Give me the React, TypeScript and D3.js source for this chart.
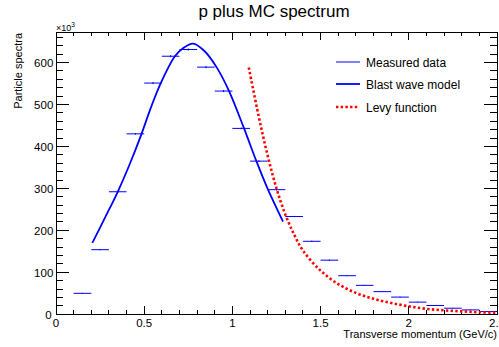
import React from "react";
import * as d3 from "d3";

// Histogram: bin lower edges (GeV/c), width 0.1, values in units of 10^3
const binLow = [0.1, 0.2, 0.3, 0.4, 0.5, 0.6, 0.7, 0.8, 0.9, 1.0, 1.1, 1.2, 1.3, 1.4, 1.5, 1.6, 1.7, 1.8, 1.9, 2.0, 2.1, 2.2, 2.3, 2.4];
const binValue = [50, 154, 292, 430, 551, 615, 631, 589, 532, 443, 365, 297, 233, 174, 129, 92, 69, 54, 41, 29, 21, 14.5, 10.5, 6.5];
const binError = [1, 1.5, 2, 2, 2.5, 2.5, 2.5, 2.5, 2.5, 2, 2, 2, 1.5, 1.5, 1.5, 1, 1, 1, 1, 1, 1, 0.8, 0.8, 0.8];
const binWidth = 0.1;

// Blast wave model curve points (x, y in 10^3)
const blastX = [0.206, 0.28, 0.35, 0.42, 0.485, 0.54, 0.594, 0.674, 0.72, 0.777, 0.84, 0.91, 0.981, 1.066, 1.136, 1.202, 1.287];
const blastY = [170, 232, 292, 360, 430, 495, 551, 615, 634, 645, 628, 589, 532, 443, 365, 297, 221];

// Levy function curve points
const levyX = [1.093, 1.15, 1.2, 1.25, 1.3, 1.35, 1.4, 1.5, 1.6, 1.7, 1.8, 1.9, 2.0, 2.1, 2.2, 2.3, 2.4, 2.5];
const levyY = [588, 470, 378, 300, 238, 190, 152, 104, 72, 51, 37, 27, 19, 13, 9.5, 7, 5, 3.5];

const xTicks = [0, 0.5, 1, 1.5, 2, 2.5];
const xTickLabels = ["0", "0.5", "1", "1.5", "2", "2.5"];
const yTicks = [0, 100, 200, 300, 400, 500, 600];
const yTickLabels = ["0", "100", "200", "300", "400", "500", "600"];

const legendLabels = ["Measured data", "Blast wave model", "Levy function"];

const W = 499, H = 347;
const L = 56, R = 497, T = 32.3, B = 314.3;
const FONT = "'Liberation Sans', Arial, Helvetica, sans-serif";

export default function App() {
  const x = d3.scaleLinear().domain([0, 2.5]).range([L, R]);
  const y = d3.scaleLinear().domain([0, 672]).range([B, T]);

  const line = d3.line<[number, number]>().x(d => x(d[0])).y(d => y(d[1])).curve(d3.curveCatmullRom.alpha(0.5));
  const blastPath = line(blastX.map((v, i) => [v, blastY[i]] as [number, number])) || "";
  const levyPath = line(levyX.map((v, i) => [v, levyY[i]] as [number, number])) || "";

  const xMinor = d3.range(0, 2.5001, 0.1);
  const yMinor = d3.range(0, 672, 20);

  return (
    <svg width={W} height={H} style={{ position: "absolute", left: 0, top: 0, background: "#fff" }} fontFamily={FONT}>
      <rect x={0} y={0} width={W} height={H} fill="#fff" />
      {/* Title */}
      <text x={274} y={17} textAnchor="middle" fontSize={17} fill="#000">p plus MC spectrum</text>

      {/* Ticks */}
      <g stroke="#000" strokeWidth={1} shapeRendering="crispEdges">
        {xMinor.map((t, i) => {
          const major = Math.abs(t / 0.5 - Math.round(t / 0.5)) < 1e-6;
          const len = major ? 8 : 4;
          return (
            <g key={"xm" + i}>
              <line x1={x(t)} x2={x(t)} y1={B} y2={B - len} />
              <line x1={x(t)} x2={x(t)} y1={T} y2={T + len} />
            </g>
          );
        })}
        {yMinor.map((t, i) => {
          const major = t % 100 === 0;
          const len = major ? 13 : 7;
          return (
            <g key={"ym" + i}>
              <line x1={L} x2={L + len} y1={y(t)} y2={y(t)} />
              <line x1={R} x2={R - len} y1={y(t)} y2={y(t)} />
            </g>
          );
        })}
        <rect x={L} y={T} width={R - L} height={B - T} fill="none" />
      </g>

      {/* Tick labels */}
      {xTicks.map((t, i) => (
        <text key={"xl" + i} x={x(t)} y={327} textAnchor="middle" fontSize={11.5} fill="#000">{xTickLabels[i]}</text>
      ))}
      {yTicks.map((t, i) => (
        <text key={"yl" + i} x={t === 0 ? 51.7 : 53.3} y={y(t) + 4.2} textAnchor="end" fontSize={11.5} fill="#000">{yTickLabels[i]}</text>
      ))}
      <text x={56} y={30.5} fontSize={9} fill="#000">×10<tspan dy={-4} fontSize={6.5}>3</tspan></text>

      {/* Axis titles */}
      <text x={497} y={338} textAnchor="end" fontSize={11} fill="#000">Transverse momentum (GeV/c)</text>
      <text transform="translate(22,33) rotate(-90)" textAnchor="end" fontSize={11} fill="#000">Particle spectra</text>

      {/* Histogram */}
      <g stroke="#0000ff" strokeWidth={1}>
        {binLow.map((b, i) => (
          <g key={"h" + i}>
            <line x1={x(b)} x2={x(b + binWidth)} y1={y(binValue[i])} y2={y(binValue[i])} />
            <line x1={x(b + binWidth / 2)} x2={x(b + binWidth / 2)} y1={y(binValue[i] - binError[i])} y2={y(binValue[i] + binError[i])} />
          </g>
        ))}
      </g>

      {/* Blast wave */}
      <path d={blastPath} fill="none" stroke="#0000ff" strokeWidth={1.8} />
      {/* Levy */}
      <path d={levyPath} fill="none" stroke="#ff0000" strokeWidth={2.6} strokeDasharray="2.4,2.3" />

      {/* Legend */}
      <g fontSize={12} fill="#000">
        <line x1={336} x2={360} y1={62} y2={62} stroke="#0000ff" strokeWidth={1} />
        <text x={366} y={66.5}>{legendLabels[0]}</text>
        <line x1={336} x2={360} y1={84} y2={84} stroke="#0000ff" strokeWidth={1.8} />
        <text x={366} y={89}>{legendLabels[1]}</text>
        <line x1={336} x2={359} y1={107} y2={107} stroke="#ff0000" strokeWidth={2.6} strokeDasharray="2.4,2.3" />
        <text x={366} y={111.5}>{legendLabels[2]}</text>
      </g>
    </svg>
  );
}
